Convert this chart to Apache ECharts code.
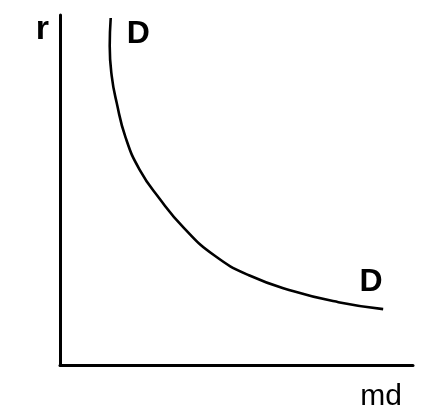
<!DOCTYPE html>
<html><head><meta charset="utf-8">
<script src="https://cdn.jsdelivr.net/npm/echarts@6/dist/echarts.min.js"></script>
<style>html,body{margin:0;padding:0;background:#fff}#c{width:435px;height:418px}</style>
</head><body><div id="c"></div>
<script>
// Demand-for-money curve D-D (abstract units: md along x, r along y)
const curveX = [51, 50, 52, 57, 66, 80, 100, 125, 155, 190, 235, 280, 325];
const curveY = [348, 320, 290, 263, 228, 196, 167, 137, 110, 90, 74, 63, 56];
const xName = 'md';
const yName = 'r';
const curveName = 'D';

const data = curveX.map((x, i) => {
  const p = { value: [x, curveY[i]] };
  if (i === 0) p.label = { show: true, formatter: curveName, position: 'right', offset: [11, 16] };
  if (i === curveX.length - 1) p.label = { show: true, formatter: curveName, position: 'top', offset: [-12, -6] };
  return p;
});

const chart = echarts.init(document.getElementById('c'));
chart.setOption({
  animation: false,
  backgroundColor: '#fff',
  grid: { left: 60, right: 22, top: 15, bottom: 53 },
  xAxis: {
    type: 'value', min: 0, max: 355,
    name: xName, nameLocation: 'end', nameGap: 0,
    nameTextStyle: { color: '#000', fontSize: 30, fontFamily: 'Liberation Sans', align: 'right', verticalAlign: 'top', padding: [17, 11, 0, 0] },
    axisLine: { show: true, lineStyle: { color: '#000', width: 3 } },
    axisTick: { show: false }, axisLabel: { show: false }, splitLine: { show: false }
  },
  yAxis: {
    type: 'value', min: 0, max: 351,
    name: yName, nameLocation: 'end', nameGap: 0,
    nameTextStyle: { color: '#000', fontSize: 34, fontFamily: 'Liberation Sans', fontWeight: 'bold', align: 'right', verticalAlign: 'top', padding: [-2, 11, 0, 0] },
    axisLine: { show: true, lineStyle: { color: '#000', width: 3 } },
    axisTick: { show: false }, axisLabel: { show: false }, splitLine: { show: false }
  },
  series: [{
    type: 'line', smooth: 0.5, symbol: 'circle', symbolSize: 0, showSymbol: true,
    itemStyle: { color: '#000' },
    lineStyle: { color: '#000', width: 2.6 },
    label: { color: '#000', fontSize: 32, fontWeight: 'bold', fontFamily: 'Liberation Sans' },
    data: data
  }]
});
</script></body></html>
